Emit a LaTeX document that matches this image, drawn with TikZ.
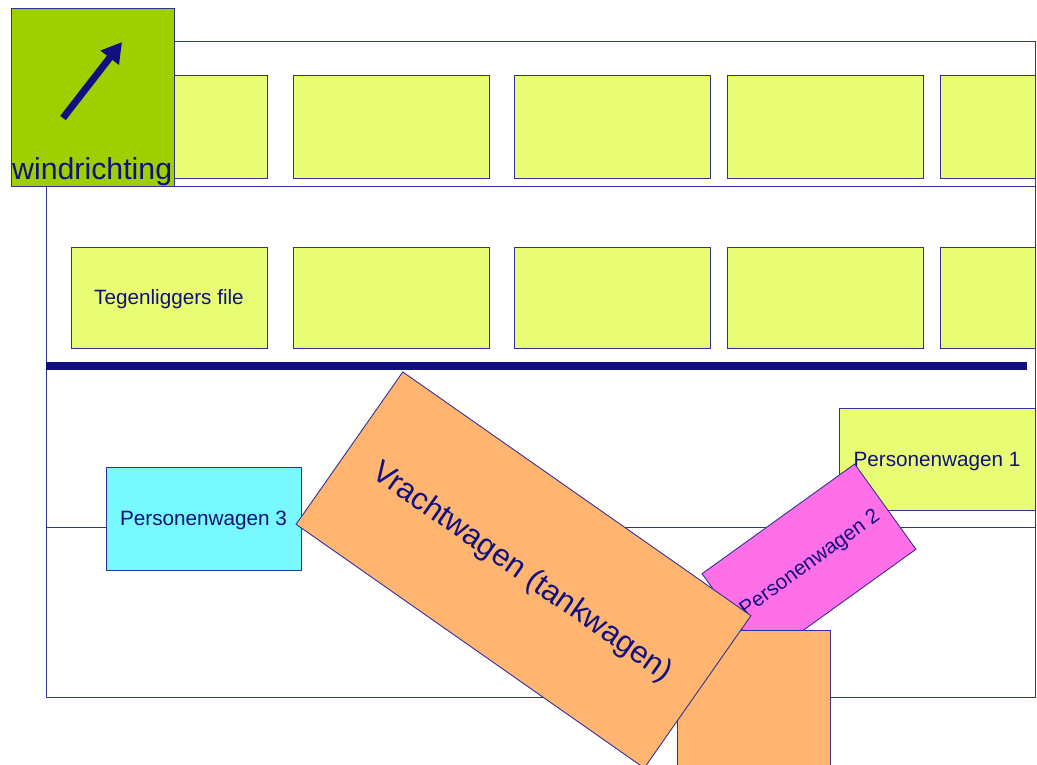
\documentclass[tikz,border=0pt]{standalone}
\usepackage{fontspec}
\setmainfont{Liberation Sans}
\usetikzlibrary{arrows.meta}
\definecolor{ink}{RGB}{16,16,128}
\definecolor{edge}{RGB}{50,50,150}
\definecolor{lime}{RGB}{232,252,116}
\definecolor{grass}{RGB}{159,207,0}
\definecolor{truck}{RGB}{255,180,112}
\definecolor{pink}{RGB}{255,112,232}
\definecolor{aqua}{RGB}{120,248,255}
\tikzset{
  car/.style={draw=edge, line width=0.9pt, inner sep=0pt, outer sep=0pt,
    anchor=north west, text=ink, font=\fontsize{20.7}{24}\selectfont,
    text height=14.9pt, text depth=0pt},
  bigtext/.style={font=\fontsize{31}{36}\selectfont, text height=22.3pt, text depth=0pt},
  lane/.style={draw=edge, line width=0.9pt},
  slot/.style={car, fill=lime, minimum width=196pt},
}
\begin{document}
\begin{tikzpicture}[x=1pt, y=-1pt]
\useasboundingbox (0,0) rectangle (1037,765);

% road outline and lane markings
\draw[lane] (46,41) rectangle (1035,697);
\draw[lane] (46,186) -- (1035,186);
\draw[lane] (46,527) -- (1035,527);
\draw[ink, line width=8pt] (46,366) -- (1027,366);

% oncoming queue, upper lane
\node[slot, minimum height=103pt] (a1) at (71,75) {};
\node[slot, minimum height=103pt] (a2) at (293,75) {};
\node[slot, minimum height=103pt] (a3) at (514,75) {};
\node[slot, minimum height=103pt] (a4) at (727,75) {};
\node[slot, minimum height=103pt, minimum width=95pt] (a5) at (940,75) {};

% oncoming queue, second lane
\node[slot, minimum height=101pt] (b1) at (71,247) {Tegenliggers file};
\node[slot, minimum height=101pt] (b2) at (293,247) {};
\node[slot, minimum height=101pt] (b3) at (514,247) {};
\node[slot, minimum height=101pt] (b4) at (727,247) {};
\node[slot, minimum height=101pt, minimum width=95pt] (b5) at (940,247) {};

% vehicles involved
\node[car, fill=aqua, minimum width=195pt, minimum height=103pt] (p3) at (106,467) {Personenwagen 3};
\node[car, fill=lime, minimum width=196pt, minimum height=102pt] (p1) at (839,408) {Personenwagen 1};
\node[car, fill=pink, anchor=center, minimum width=188pt, minimum height=105pt, rotate=35.7] (p2) at (809,561.5) {Personenwagen 2};
\node[car, fill=truck, minimum width=153pt, minimum height=135pt] (tr) at (677,630) {};
\node[car, bigtext, fill=truck, anchor=center, minimum width=425pt, minimum height=186pt, rotate=-35] (vw) at (523.5,570) {Vrachtwagen (tankwagen)};

% wind direction legend
\node[car, fill=grass, minimum width=163pt, minimum height=178pt] (wind) at (11,8) {};
\coordinate (wtail) at (63,118);
\coordinate (whead) at (122,42);
\draw[ink, line width=7pt, -{Triangle[length=20pt, width=22pt]}] (wtail) -- (whead);
\node[anchor=base west, inner sep=0pt, text=ink, font=\fontsize{30.3}{34}\selectfont] (wlabel) at (12,180) {windrichting};
\end{tikzpicture}
\end{document}
